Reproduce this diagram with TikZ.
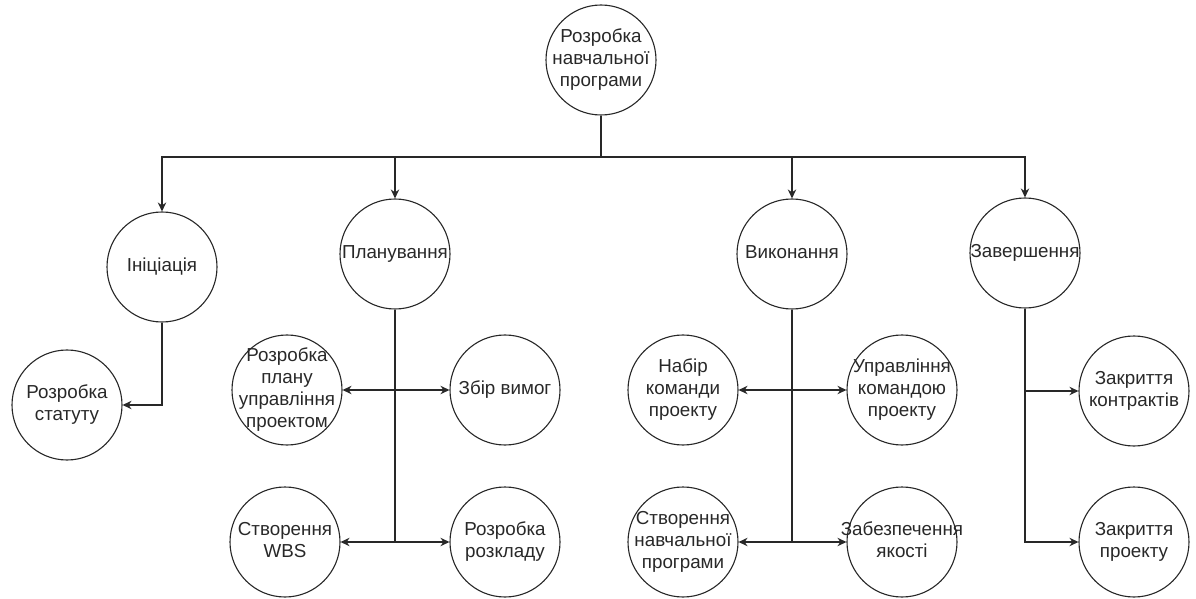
\documentclass[tikz,border=0pt]{standalone}
\usepackage{fontspec}
\setmainfont{Liberation Sans}
\definecolor{inkgray}{RGB}{40,40,40}
\usepackage{tikz}
\usetikzlibrary{arrows.meta,positioning}
% text may run past the ring without widening it
\newcommand{\inring}[1]{\makebox[0pt]{\begin{tabular}{@{}c@{}}#1\end{tabular}}}

\begin{document}
\begin{tikzpicture}[
    x=0.5pt, y=-0.5pt,
    stage/.style={circle, draw=inkgray, line width=0.55pt, minimum size=55pt, inner sep=0pt, text=inkgray, font=\fontsize{9.4pt}{11pt}\selectfont},
    link/.style={draw=inkgray, line width=0.65pt},
    flow/.style={link, -{Stealth[length=4.5pt,width=4.2pt]}},
    twoway/.style={link, {Stealth[length=4.5pt,width=4.2pt]}-{Stealth[length=4.5pt,width=4.2pt]}}
]
    \useasboundingbox (0,0) rectangle (1196,599);

    % root and phases
    \node[stage] (root) at (601,60) {\inring{Розробка\\навчальної\\програми}};
    \node[stage] (init) at (162,267) {\inring{Ініціація}};
    \node[stage] (plan) at (395,254) {\inring{Планування}};
    \node[stage] (exec) at (792,254) {\inring{Виконання}};
    \node[stage] (fin)  at (1025,253) {\inring{Завершення}};
    \coordinate (bus) at (601,157);

    % tasks
    \node[stage] (charter) at (67,405) {\inring{Розробка\\статуту}};
    \node[stage] (pmplan) at ([shift={(-108,136)}]plan) {\inring{Розробка\\плану\\управління\\проектом}};
    \node[stage] (reqs)   at ([shift={(110,136)}]plan) {\inring{Збір вимог}};
    \node[stage] (wbs)    at ([shift={(-110,288)}]plan) {\inring{Створення\\WBS}};
    \node[stage] (sched)  at ([shift={(110,288)}]plan) {\inring{Розробка\\розкладу}};
    \node[stage] (team)   at ([shift={(-109,136)}]exec) {\inring{Набір\\команди\\проекту}};
    \node[stage] (lead)   at ([shift={(110,136)}]exec) {\inring{Управління\\командою\\проекту}};
    \node[stage] (course) at ([shift={(-109,288)}]exec) {\inring{Створення\\навчальної\\програми}};
    \node[stage] (qa)     at ([shift={(110,288)}]exec) {\inring{Забезпечення\\якості}};
    \node[stage] (deals)  at ([shift={(109,138)}]fin) {\inring{Закриття\\контрактів}};
    \node[stage] (close)  at ([shift={(109,289)}]fin) {\inring{Закриття\\проекту}};

    % top level
    \draw[link] (root) -- (bus);
    \draw[flow] (bus) -| (init);
    \draw[flow] (bus) -| (plan);
    \draw[flow] (bus) -| (exec);
    \draw[flow] (bus) -| (fin);

    % branches
    \draw[flow] (init) |- (charter);
    \draw[link] (plan) -- (plan |- wbs);
    \draw[twoway] (pmplan) -- (reqs);
    \draw[twoway] (wbs) -- (sched);
    \draw[link] (exec) -- (exec |- course);
    \draw[twoway] (team) -- (lead);
    \draw[twoway] (course) -- (qa);
    \draw[flow] (fin) |- (deals);
    \draw[flow] (fin) |- (close);
\end{tikzpicture}
\end{document}
